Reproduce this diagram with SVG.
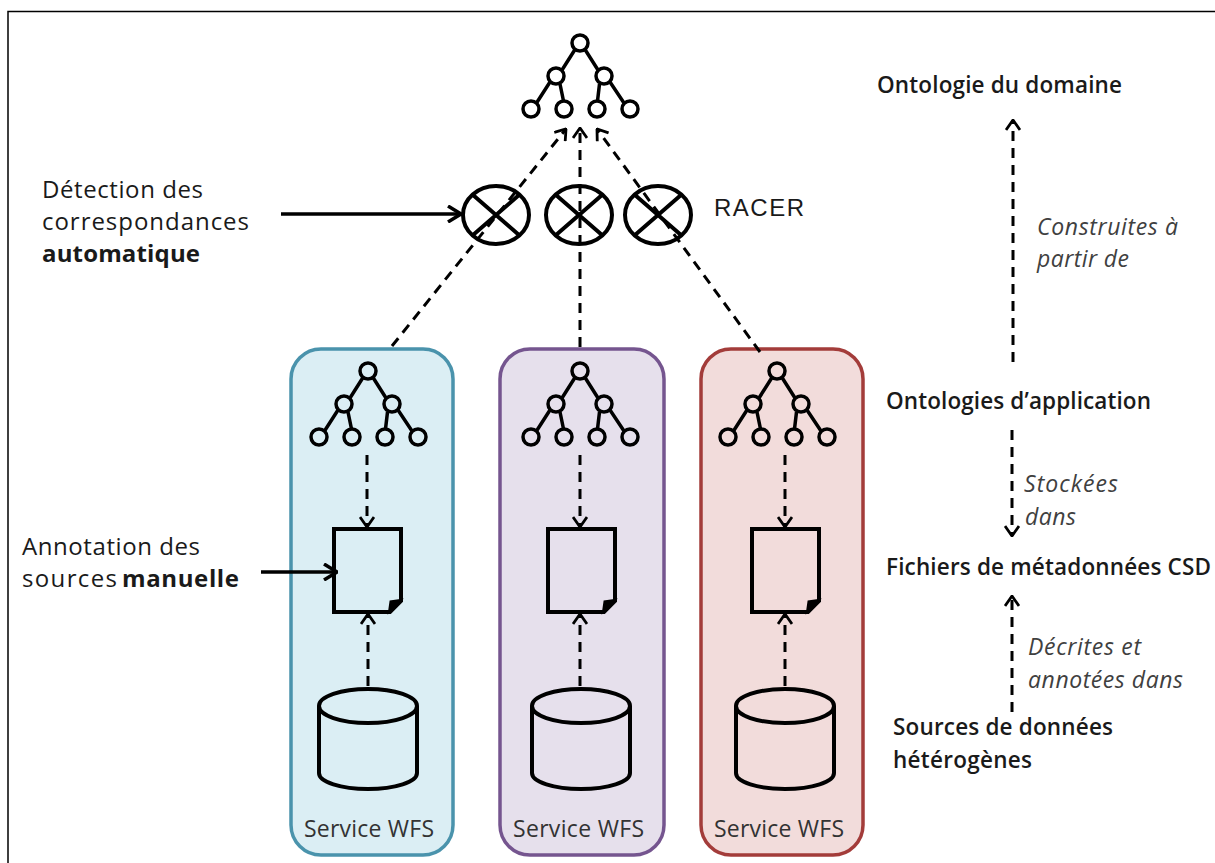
<svg xmlns="http://www.w3.org/2000/svg" width="1215" height="863" viewBox="0 0 1215 863">
<style>
text{font-family:"Open Sans","Noto Sans",sans-serif;fill:#1a1a1a}
.l{font-size:24px}
.b{font-size:22.500px;font-weight:600}
.n{font-size:24px;font-weight:700}
.i{font-size:23px;font-style:italic;fill:#404040}
.s{font-size:23px;fill:#333}
.k{fill:none;stroke:#000;stroke-width:4}
.t{fill:none;stroke:#000;stroke-width:3.500}
.d{fill:none;stroke:#000;stroke-width:3;stroke-dasharray:10 7}
.a{fill:none;stroke:#000;stroke-width:3.500}
</style>
<defs>
<marker id="v" viewBox="0 0 12 16" refX="11" refY="8" markerWidth="12" markerHeight="16" markerUnits="userSpaceOnUse" orient="auto"><path d="M1 1L11 8L1 15" fill="none" stroke="#000" stroke-width="2.800"/></marker>
<marker id="vb" viewBox="0 0 15 18" refX="14" refY="9" markerWidth="15" markerHeight="18" markerUnits="userSpaceOnUse" orient="auto"><path d="M1 1L14 9L1 17" fill="none" stroke="#000" stroke-width="3.500"/></marker>
<g id="tree">
<path class="t" d="M-5 6.500L-18 27M5 6.500L18 27M-30 39L-43.500 60M-20 41L-16.500 58M19.500 41L17.500 58M30 39L44 60"/>
<circle class="t" cx="0" cy="0" r="8"/>
<circle class="t" cx="-24" cy="33" r="8"/>
<circle class="t" cx="24" cy="33" r="8"/>
<circle class="t" cx="-49" cy="66" r="8"/>
<circle class="t" cx="-16" cy="66" r="8"/>
<circle class="t" cx="17" cy="66" r="8"/>
<circle class="t" cx="50" cy="66" r="8"/>
</g>
<g id="doc">
<path class="k" d="M0 0H67V72L56 83H0Z"/>
<path d="M55 83L56.500 72.500L67 71Z" fill="#000" stroke="#000" stroke-width="2"/>
</g>
<g id="cyl">
<path class="k" d="M0 18V85C0 94 22 101 49 101S98 94 98 85V18"/>
<ellipse class="k" cx="49" cy="18" rx="49" ry="17"/>
</g>
<g id="cross">
<ellipse class="k" cx="0" cy="0" rx="33" ry="29"/>
<path class="k" d="M-23 -20L23 20M23 -20L-23 20"/>
</g>
</defs>
<rect id="frame" x="8" y="11.500" width="1300" height="900" fill="#fff" stroke="#000" stroke-width="1.500"/>
<g id="service-blue">
<rect x="291" y="349" width="162" height="506" rx="30" fill="#dbeef4" stroke="#4a93ac" stroke-width="3.500"/>
<use href="#tree" x="368" y="371"/>
<use href="#doc" x="334" y="529"/>
<use href="#cyl" x="319" y="688"/>
<text class="s" x="304" y="837" textLength="130">Service WFS</text>
</g>
<g id="service-purple">
<rect x="500" y="349" width="164" height="506" rx="30" fill="#e6e0ec" stroke="#75558f" stroke-width="3.500"/>
<use href="#tree" x="580" y="371"/>
<use href="#doc" x="548" y="529"/>
<use href="#cyl" x="532" y="688"/>
<text class="s" x="513" y="837" textLength="131">Service WFS</text>
</g>
<g id="service-red">
<rect x="701" y="349" width="162" height="506" rx="30" fill="#f2dcdb" stroke="#a33c3a" stroke-width="3.500"/>
<use href="#tree" x="777" y="371"/>
<use href="#doc" x="752" y="529"/>
<use href="#cyl" x="736" y="688"/>
<text class="s" x="714" y="837" textLength="130">Service WFS</text>
</g>
<g id="connectors">
<path class="d" d="M392 346L566 129" marker-end="url(#v)"/>
<path class="d" d="M580 347V128" marker-end="url(#v)"/>
<path class="d" d="M760 352L597 129" marker-end="url(#v)"/>
<path class="d" d="M367 455V527" marker-end="url(#v)"/>
<path class="d" d="M580 455V527" marker-end="url(#v)"/>
<path class="d" d="M785 455V527" marker-end="url(#v)"/>
<path class="d" d="M368 686V614" marker-end="url(#v)"/>
<path class="d" d="M580 686V614" marker-end="url(#v)"/>
<path class="d" d="M785 686V614" marker-end="url(#v)"/>
<path class="d" d="M1013 362V120" marker-end="url(#v)"/>
<path class="d" d="M1012 430V536" marker-end="url(#v)"/>
<path class="d" d="M1012 712V596" marker-end="url(#v)"/>
<path class="a" d="M281 214H461" marker-end="url(#vb)"/>
<path class="a" d="M261 572H337" marker-end="url(#vb)"/>
</g>
<g id="onto-top"><use href="#tree" x="580" y="43"/></g>
<g id="match-1"><use href="#cross" x="496" y="215"/></g>
<g id="match-2"><use href="#cross" x="579" y="215"/></g>
<g id="match-3"><use href="#cross" x="658" y="215"/></g>
<g id="labels">
<text x="714" y="216" textLength="90" style="font-family:'Liberation Sans',sans-serif;font-size:24px">RACER</text>
<text class="l" x="42" y="198" textLength="161">Détection des</text>
<text class="l" x="42" y="230" textLength="207">correspondances</text>
<text class="n" x="42" y="262" textLength="158">automatique</text>
<text class="l" x="22" y="555" textLength="178">Annotation des</text>
<text class="l" x="22" y="587" textLength="95">sources</text>
<text class="n" x="122" y="587" textLength="117">manuelle</text>
<text class="b" x="877" y="93" textLength="245">Ontologie du domaine</text>
<text class="b" x="886" y="409" textLength="265">Ontologies d’application</text>
<text class="b" x="886" y="575" textLength="325">Fichiers de métadonnées CSD</text>
<text class="b" x="893" y="735" textLength="220">Sources de données</text>
<text class="b" x="893" y="768" textLength="139">hétérogènes</text>
<text class="i" x="1037" y="235" textLength="141">Construites à</text>
<text class="i" x="1037" y="267" textLength="92">partir de</text>
<text class="i" x="1024" y="492" textLength="94">Stockées</text>
<text class="i" x="1025" y="525" textLength="51">dans</text>
<text class="i" x="1028" y="655" textLength="113">Décrites et</text>
<text class="i" x="1028" y="688" textLength="155">annotées dans</text>
</g>
</svg>
